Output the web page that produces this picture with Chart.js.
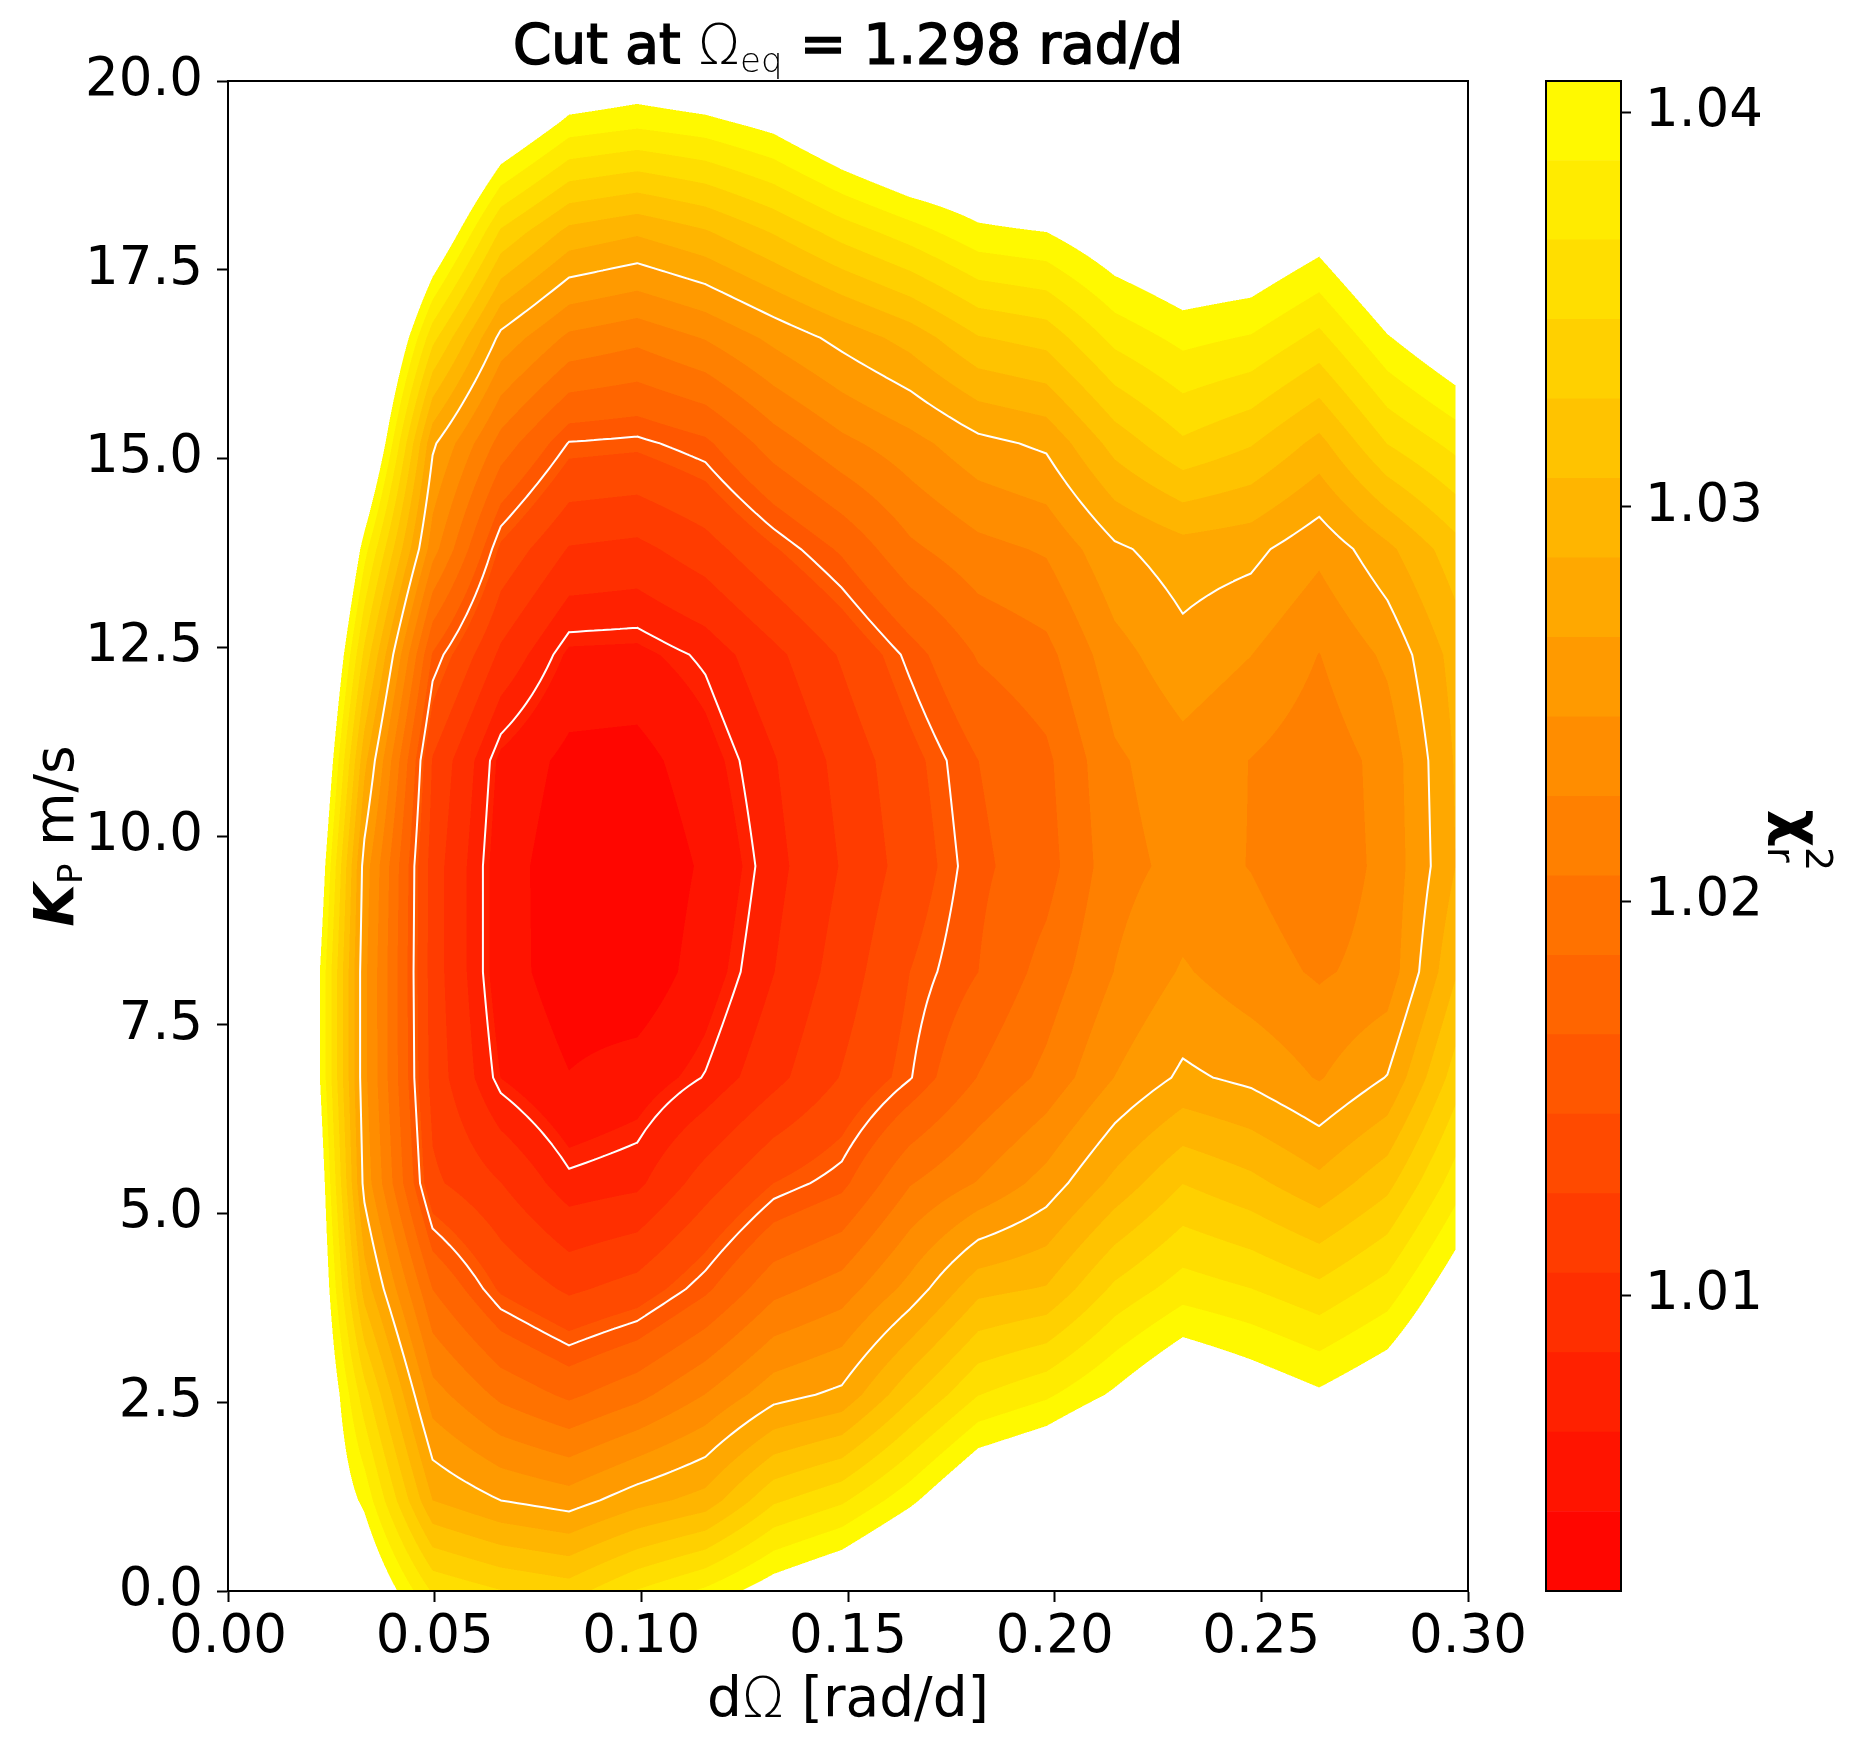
<!DOCTYPE html>
<html>
<head>
<meta charset="utf-8">
<script src="https://cdn.jsdelivr.net/npm/chart.js@4.4.1/dist/chart.umd.min.js"></script>
<style>
  body { margin: 0; background: #fff; }
  #wrap { position: relative; width: 1854px; height: 1749px; }
  canvas { position: absolute; top: 0; }
</style>
</head>
<body>
<div id="wrap">
  <canvas id="mapChart" width="1854" height="1749" style="left:0"></canvas>
  <canvas id="barChart" width="309" height="1749" style="left:1545px"></canvas>
</div>
<script>
/* grid of the cut: dOmega along x, K_P along y
---------------------------- */
var dOmega = [0.0000, 0.0165, 0.0330, 0.0495, 0.0660, 0.0825, 0.0990, 0.1155, 0.1320, 0.1485,
              0.1650, 0.1815, 0.1980, 0.2145, 0.2310, 0.2475, 0.2640, 0.2805, 0.2970];
var kP = [-0.2, 1.2, 2.6, 4.0, 5.4, 6.8, 8.2, 9.6, 11.0, 12.4, 13.8, 15.2, 16.6, 18.0, 19.4, 20.8];

// reduced chi2, one row per kP value
var chi2 = [
  [1.0670, 1.0549, 1.0456, 1.0378, 1.0362, 1.0352, 1.0384, 1.0408, 1.0436, 1.0458, 1.0493, 1.0529, 1.0549, 1.0581, 1.0579, 1.0569, 1.0549, 1.0549, 1.0589], // -0.2
  [1.0589, 1.0469, 1.0402, 1.0287, 1.0267, 1.0257, 1.0279, 1.0295, 1.0344, 1.0364, 1.0402, 1.0448, 1.0465, 1.0497, 1.0517, 1.0507, 1.0481, 1.0499, 1.0529], // 1.2
  [1.0620, 1.0499, 1.0356, 1.0235, 1.0201, 1.0182, 1.0200, 1.0227, 1.0259, 1.0272, 1.0323, 1.0367, 1.0384, 1.0412, 1.0444, 1.0428, 1.0412, 1.0432, 1.0469], // 2.6
  [1.0630, 1.0511, 1.0299, 1.0186, 1.0143, 1.0122, 1.0134, 1.0162, 1.0200, 1.0216, 1.0254, 1.0301, 1.0309, 1.0352, 1.0378, 1.0368, 1.0353, 1.0376, 1.0426], // 4.0
  [1.0630, 1.0515, 1.0260, 1.0130, 1.0106, 1.0075, 1.0081, 1.0116, 1.0146, 1.0161, 1.0205, 1.0228, 1.0255, 1.0293, 1.0327, 1.0313, 1.0293, 1.0321, 1.0378], // 5.4
  [1.0610, 1.0491, 1.0252, 1.0118, 1.0065, 1.0046, 1.0055, 1.0072, 1.0099, 1.0127, 1.0153, 1.0187, 1.0212, 1.0247, 1.0271, 1.0262, 1.0245, 1.0268, 1.0337], // 6.8
  [1.0610, 1.0491, 1.0252, 1.0116, 1.0055, 1.0033, 1.0029, 1.0056, 1.0085, 1.0115, 1.0146, 1.0166, 1.0194, 1.0227, 1.0249, 1.0235, 1.0224, 1.0234, 1.0305], // 8.2
  [1.0640, 1.0519, 1.0258, 1.0116, 1.0055, 1.0032, 1.0026, 1.0049, 1.0079, 1.0107, 1.0135, 1.0162, 1.0178, 1.0219, 1.0233, 1.0226, 1.0214, 1.0232, 1.0287], // 9.6
  [1.0664, 1.0543, 1.0293, 1.0124, 1.0061, 1.0039, 1.0037, 1.0058, 1.0084, 1.0112, 1.0140, 1.0166, 1.0182, 1.0223, 1.0239, 1.0226, 1.0214, 1.0234, 1.0289], // 11.0
  [1.0682, 1.0561, 1.0342, 1.0164, 1.0101, 1.0062, 1.0061, 1.0074, 1.0100, 1.0128, 1.0158, 1.0188, 1.0200, 1.0239, 1.0260, 1.0247, 1.0226, 1.0251, 1.0295], // 12.4
  [1.0710, 1.0594, 1.0396, 1.0235, 1.0142, 1.0104, 1.0100, 1.0117, 1.0144, 1.0169, 1.0202, 1.0220, 1.0229, 1.0263, 1.0278, 1.0273, 1.0252, 1.0282, 1.0319], // 13.8
  [1.0751, 1.0630, 1.0469, 1.0271, 1.0198, 1.0153, 1.0150, 1.0162, 1.0196, 1.0221, 1.0239, 1.0261, 1.0271, 1.0315, 1.0344, 1.0329, 1.0301, 1.0348, 1.0374], // 15.2
  [1.0791, 1.0670, 1.0509, 1.0354, 1.0261, 1.0222, 1.0212, 1.0228, 1.0252, 1.0274, 1.0295, 1.0326, 1.0335, 1.0374, 1.0394, 1.0386, 1.0362, 1.0406, 1.0436], // 16.6
  [1.0831, 1.0710, 1.0569, 1.0448, 1.0344, 1.0301, 1.0290, 1.0305, 1.0329, 1.0356, 1.0378, 1.0402, 1.0408, 1.0432, 1.0448, 1.0444, 1.0422, 1.0465, 1.0489], // 18.0
  [1.0872, 1.0751, 1.0630, 1.0529, 1.0444, 1.0398, 1.0390, 1.0398, 1.0414, 1.0444, 1.0469, 1.0469, 1.0489, 1.0499, 1.0519, 1.0509, 1.0489, 1.0529, 1.0549], // 19.4
  [1.0912, 1.0791, 1.0690, 1.0610, 1.0569, 1.0489, 1.0475, 1.0489, 1.0509, 1.0529, 1.0549, 1.0549, 1.0569, 1.0569, 1.0589, 1.0579, 1.0559, 1.0589, 1.0610]  // 20.8
];

// filled levels and the white sigma lines
var chi2Min = 1.0025;
var chi2Max = 1.0408;
var nLevels = 20;
var sigmaLines = [1.0071, 1.0154, 1.0267];

var xTicks = [0, 0.05, 0.10, 0.15, 0.20, 0.25, 0.30];
var yTicks = [0, 2.5, 5, 7.5, 10, 12.5, 15, 17.5, 20];
var cbTicks = [1.01, 1.02, 1.03, 1.04];

var levels = [];
for (var i = 0; i < nLevels; i++) {
  levels.push(chi2Min + (chi2Max - chi2Min) * i / (nLevels - 1));
}
var bandStep = levels[1] - levels[0];
// autumn colormap, sampled at the middle of every band
var bandG = [];
for (var b = 0; b < nLevels - 1; b++) {
  bandG.push(Math.min(255, Math.floor(256 * (b + 0.5) / (nLevels - 1))));
}

Chart.defaults.font.family = 'DejaVu Sans';
Chart.defaults.color = '#000';

var FONT = '"DejaVu Sans"';

function locate(grid, v) {
  var n = grid.length;
  if (v < grid[0] || v > grid[n - 1]) return null;
  var k = 0;
  while (k < n - 2 && v > grid[k + 1]) k++;
  return [k, (v - grid[k]) / (grid[k + 1] - grid[k])];
}

// text made of pieces (sub/superscripts), centred on x = 0 of the current frame
function drawPieces(ctx, pieces) {
  var total = 0;
  pieces.forEach(function (p) {
    ctx.font = p.font;
    p.w = ctx.measureText(p.text).width;
    if (!p.stack) total += p.w;
  });
  var x = -total / 2, last = 0;
  ctx.textBaseline = 'alphabetic';
  ctx.textAlign = 'left';
  pieces.forEach(function (p) {
    ctx.font = p.font;
    var px = p.stack ? last : x;
    ctx.fillText(p.text, px, p.dy || 0);
    if (p.heavy) {
      ctx.lineWidth = p.heavy;
      ctx.strokeStyle = ctx.fillStyle;
      ctx.strokeText(p.text, px, p.dy || 0);
    }
    if (!p.stack) { last = x; x += p.w; }
  });
}

function isoLines(chart, level) {
  var ctx = chart.ctx, xs = chart.scales.x, ys = chart.scales.y;
  var sub = 8;
  for (var j = 0; j < kP.length - 1; j++) {
    for (var i = 0; i < dOmega.length - 1; i++) {
      var z00 = chi2[j][i], z10 = chi2[j][i + 1], z01 = chi2[j + 1][i], z11 = chi2[j + 1][i + 1];
      if (level < Math.min(z00, z10, z01, z11) || level > Math.max(z00, z10, z01, z11)) continue;
      var f = function (u, v) {
        return (z00 * (1 - u) + z10 * u) * (1 - v) + (z01 * (1 - u) + z11 * u) * v;
      };
      var toPx = function (u, v) {
        return [xs.getPixelForValue(dOmega[i] + u * (dOmega[i + 1] - dOmega[i])),
                ys.getPixelForValue(kP[j] + v * (kP[j + 1] - kP[j]))];
      };
      for (var bb = 0; bb < sub; bb++) {
        for (var aa = 0; aa < sub; aa++) {
          var u0 = aa / sub, u1 = (aa + 1) / sub, v0 = bb / sub, v1 = (bb + 1) / sub;
          var c = [[u0, v0], [u1, v0], [u1, v1], [u0, v1]];
          var q = c.map(function (p) { return f(p[0], p[1]); });
          var up = q.map(function (z) { return z >= level; });
          var pts = [];
          for (var e = 0; e < 4; e++) {
            var e2 = (e + 1) % 4;
            if (up[e] !== up[e2]) {
              var t = (level - q[e]) / (q[e2] - q[e]);
              pts[e] = [c[e][0] + t * (c[e2][0] - c[e][0]), c[e][1] + t * (c[e2][1] - c[e][1])];
            }
          }
          var pairs = [];
          var found = pts.map(function (p, k) { return p ? k : -1; }).filter(function (k) { return k >= 0; });
          if (found.length === 2) {
            pairs.push([found[0], found[1]]);
          } else if (found.length === 4) {
            var centreUp = f((u0 + u1) / 2, (v0 + v1) / 2) >= level;
            for (var k = 0; k < 4; k++) {
              if (up[k] !== centreUp) pairs.push([(k + 3) % 4, k]);
            }
          }
          pairs.forEach(function (pr) {
            var a = toPx(pts[pr[0]][0], pts[pr[0]][1]);
            var b2 = toPx(pts[pr[1]][0], pts[pr[1]][1]);
            ctx.moveTo(a[0], a[1]);
            ctx.lineTo(b2[0], b2[1]);
          });
        }
      }
    }
  }
}

/* filled contours of chi2 + white lines
---------------------------- */
var contourPlugin = {
  id: 'contour',
  beforeDatasetsDraw: function (chart) {
    var ctx = chart.ctx, a = chart.chartArea;
    var xs = chart.scales.x, ys = chart.scales.y;
    var dpr = chart.currentDevicePixelRatio || 1;
    var ss = 2;
    var w = Math.round(a.width * dpr), h = Math.round(a.height * dpr);
    var cols = [], rows = [];
    for (var s = 0; s < w * ss; s++) cols.push(locate(dOmega, xs.getValueForPixel(a.left + (s + 0.5) / (ss * dpr))));
    for (var s2 = 0; s2 < h * ss; s2++) rows.push(locate(kP, ys.getValueForPixel(a.top + (s2 + 0.5) / (ss * dpr))));

    var off = document.createElement('canvas');
    off.width = w; off.height = h;
    var octx = off.getContext('2d');
    var img = octx.createImageData(w, h);
    var d = img.data;
    for (var py = 0; py < h; py++) {
      for (var px = 0; px < w; px++) {
        var g = 0, n = 0;
        for (var sy = 0; sy < ss; sy++) {
          var rw = rows[py * ss + sy];
          if (!rw) continue;
          var j = rw[0], fy = rw[1], r0 = chi2[j], r1 = chi2[j + 1];
          for (var sx = 0; sx < ss; sx++) {
            var cl = cols[px * ss + sx];
            if (!cl) continue;
            var i = cl[0], fx = cl[1];
            var z = (r0[i] * (1 - fx) + r0[i + 1] * fx) * (1 - fy) + (r1[i] * (1 - fx) + r1[i + 1] * fx) * fy;
            if (z < chi2Min || z > chi2Max) continue;
            var band = Math.min(nLevels - 2, Math.floor((z - chi2Min) / bandStep));
            g += bandG[band]; n++;
          }
        }
        if (n) {
          var o = (py * w + px) * 4;
          d[o] = 255; d[o + 1] = Math.round(g / n); d[o + 2] = 0;
          d[o + 3] = Math.round(255 * n / (ss * ss));
        }
      }
    }
    octx.putImageData(img, 0, 0);
    ctx.drawImage(off, a.left, a.top, a.width, a.height);

    ctx.save();
    ctx.beginPath();
    ctx.rect(a.left, a.top, a.width, a.height);
    ctx.clip();
    ctx.strokeStyle = '#fff';
    ctx.lineWidth = 2;
    ctx.lineCap = 'round';
    ctx.lineJoin = 'round';
    sigmaLines.forEach(function (lv) {
      ctx.beginPath();
      isoLines(chart, lv);
      ctx.stroke();
    });
    ctx.restore();
  },
  afterDatasetsDraw: function (chart) {
    var ctx = chart.ctx, a = chart.chartArea;
    ctx.save();
    ctx.strokeStyle = '#000';
    ctx.lineWidth = 2;
    ctx.strokeRect(a.left, a.top, a.width, a.height);

    ctx.fillStyle = '#000';
    // title
    ctx.save();
    ctx.translate((a.left + a.right) / 2, a.top - 18);
    drawPieces(ctx, [
      { text: 'Cut at ', font: '55px ' + FONT, heavy: 1.6 },
      { text: 'Ω', font: '200 55px ' + FONT },
      { text: 'eq', font: '200 34px ' + FONT, dy: 9 },
      { text: ' = 1.298 rad/d', font: '55px ' + FONT, heavy: 1.6 }
    ]);
    ctx.restore();
    // x title
    ctx.save();
    ctx.translate((a.left + a.right) / 2, a.bottom + 125);
    drawPieces(ctx, [
      { text: 'd', font: '55px ' + FONT },
      { text: 'Ω', font: '200 55px ' + FONT },
      { text: ' [rad/d]', font: '55px ' + FONT }
    ]);
    ctx.restore();
    // y title
    ctx.save();
    ctx.translate(a.left - 155, (a.top + a.bottom) / 2);
    ctx.rotate(-Math.PI / 2);
    drawPieces(ctx, [
      { text: 'K', font: 'italic bold 55px ' + FONT },
      { text: 'P', font: '34px ' + FONT, dy: 9 },
      { text: ' m/s', font: '55px ' + FONT }
    ]);
    ctx.restore();
    ctx.restore();
  }
};

var ctx1 = document.getElementById('mapChart');
var mapChart = new Chart(ctx1, {
  type: 'scatter',
  data: { datasets: [] },
  options: {
    responsive: false,
    animation: false,
    layout: { padding: { top: 81, right: 386, bottom: 0, left: 0 } },
    plugins: { legend: { display: false }, tooltip: { enabled: false } },
    scales: {
      x: {
        type: 'linear', min: 0, max: 0.3,
        afterBuildTicks: function (s) { s.ticks = xTicks.map(function (v) { return { value: v }; }); },
        afterFit: function (s) { s.height = 158; },
        ticks: { font: { size: 53 }, color: '#000', padding: 4, maxRotation: 0, autoSkip: false,
                 callback: function (v) { return v.toFixed(2); } },
        grid: { drawOnChartArea: false, tickLength: 11, tickWidth: 2, tickColor: '#000' },
        border: { color: '#000', width: 2 }
      },
      y: {
        type: 'linear', min: 0, max: 20,
        afterBuildTicks: function (s) { s.ticks = yTicks.map(function (v) { return { value: v }; }); },
        afterFit: function (s) { s.width = 228; },
        ticks: { font: { size: 53 }, color: '#000', padding: 14, autoSkip: false,
                 callback: function (v) { return v.toFixed(1); } },
        grid: { drawOnChartArea: false, tickLength: 11, tickWidth: 2, tickColor: '#000' },
        border: { color: '#000', width: 2 }
      }
    }
  },
  plugins: [contourPlugin]
});

/* colour bar
---------------------------- */
var barFrame = {
  id: 'barFrame',
  afterDatasetsDraw: function (chart) {
    var ctx = chart.ctx, a = chart.chartArea;
    ctx.save();
    ctx.strokeStyle = '#000';
    ctx.lineWidth = 2;
    ctx.strokeRect(a.left + 1, a.top, a.width - 1, a.height);
    ctx.fillStyle = '#000';
    ctx.translate(a.right + 159, (a.top + a.bottom) / 2);
    ctx.rotate(Math.PI / 2);
    drawPieces(ctx, [
      { text: 'χ', font: 'bold 58px ' + FONT },
      { text: 'r', font: '38px ' + FONT, dy: 12 },
      { text: '2', font: '38px ' + FONT, dy: -26, stack: true }
    ]);
    ctx.restore();
  }
};

var ctx2 = document.getElementById('barChart');
var barChart = new Chart(ctx2, {
  type: 'bar',
  data: {
    labels: ['chi2'],
    datasets: bandG.map(function (g, k) {
      return {
        data: [[levels[k], levels[k + 1]]],
        backgroundColor: 'rgb(255,' + g + ',0)',
        borderWidth: 0,
        barPercentage: 1,
        categoryPercentage: 1,
        grouped: false
      };
    })
  },
  options: {
    responsive: false,
    animation: false,
    layout: { padding: { top: 81, right: 0, bottom: 158, left: 0 } },
    plugins: { legend: { display: false }, tooltip: { enabled: false } },
    scales: {
      x: { display: false },
      y: {
        position: 'right', min: chi2Min, max: chi2Max,
        afterBuildTicks: function (s) { s.ticks = cbTicks.map(function (v) { return { value: v }; }); },
        afterFit: function (s) { s.width = 233; },
        ticks: { font: { size: 53 }, color: '#000', padding: 14,
                 callback: function (v) { return v.toFixed(2); } },
        grid: { drawOnChartArea: false, tickLength: 10, tickWidth: 2, tickColor: '#000' },
        border: { color: '#000', width: 2 }
      }
    }
  },
  plugins: [barFrame]
});
</script>
</body>
</html>
